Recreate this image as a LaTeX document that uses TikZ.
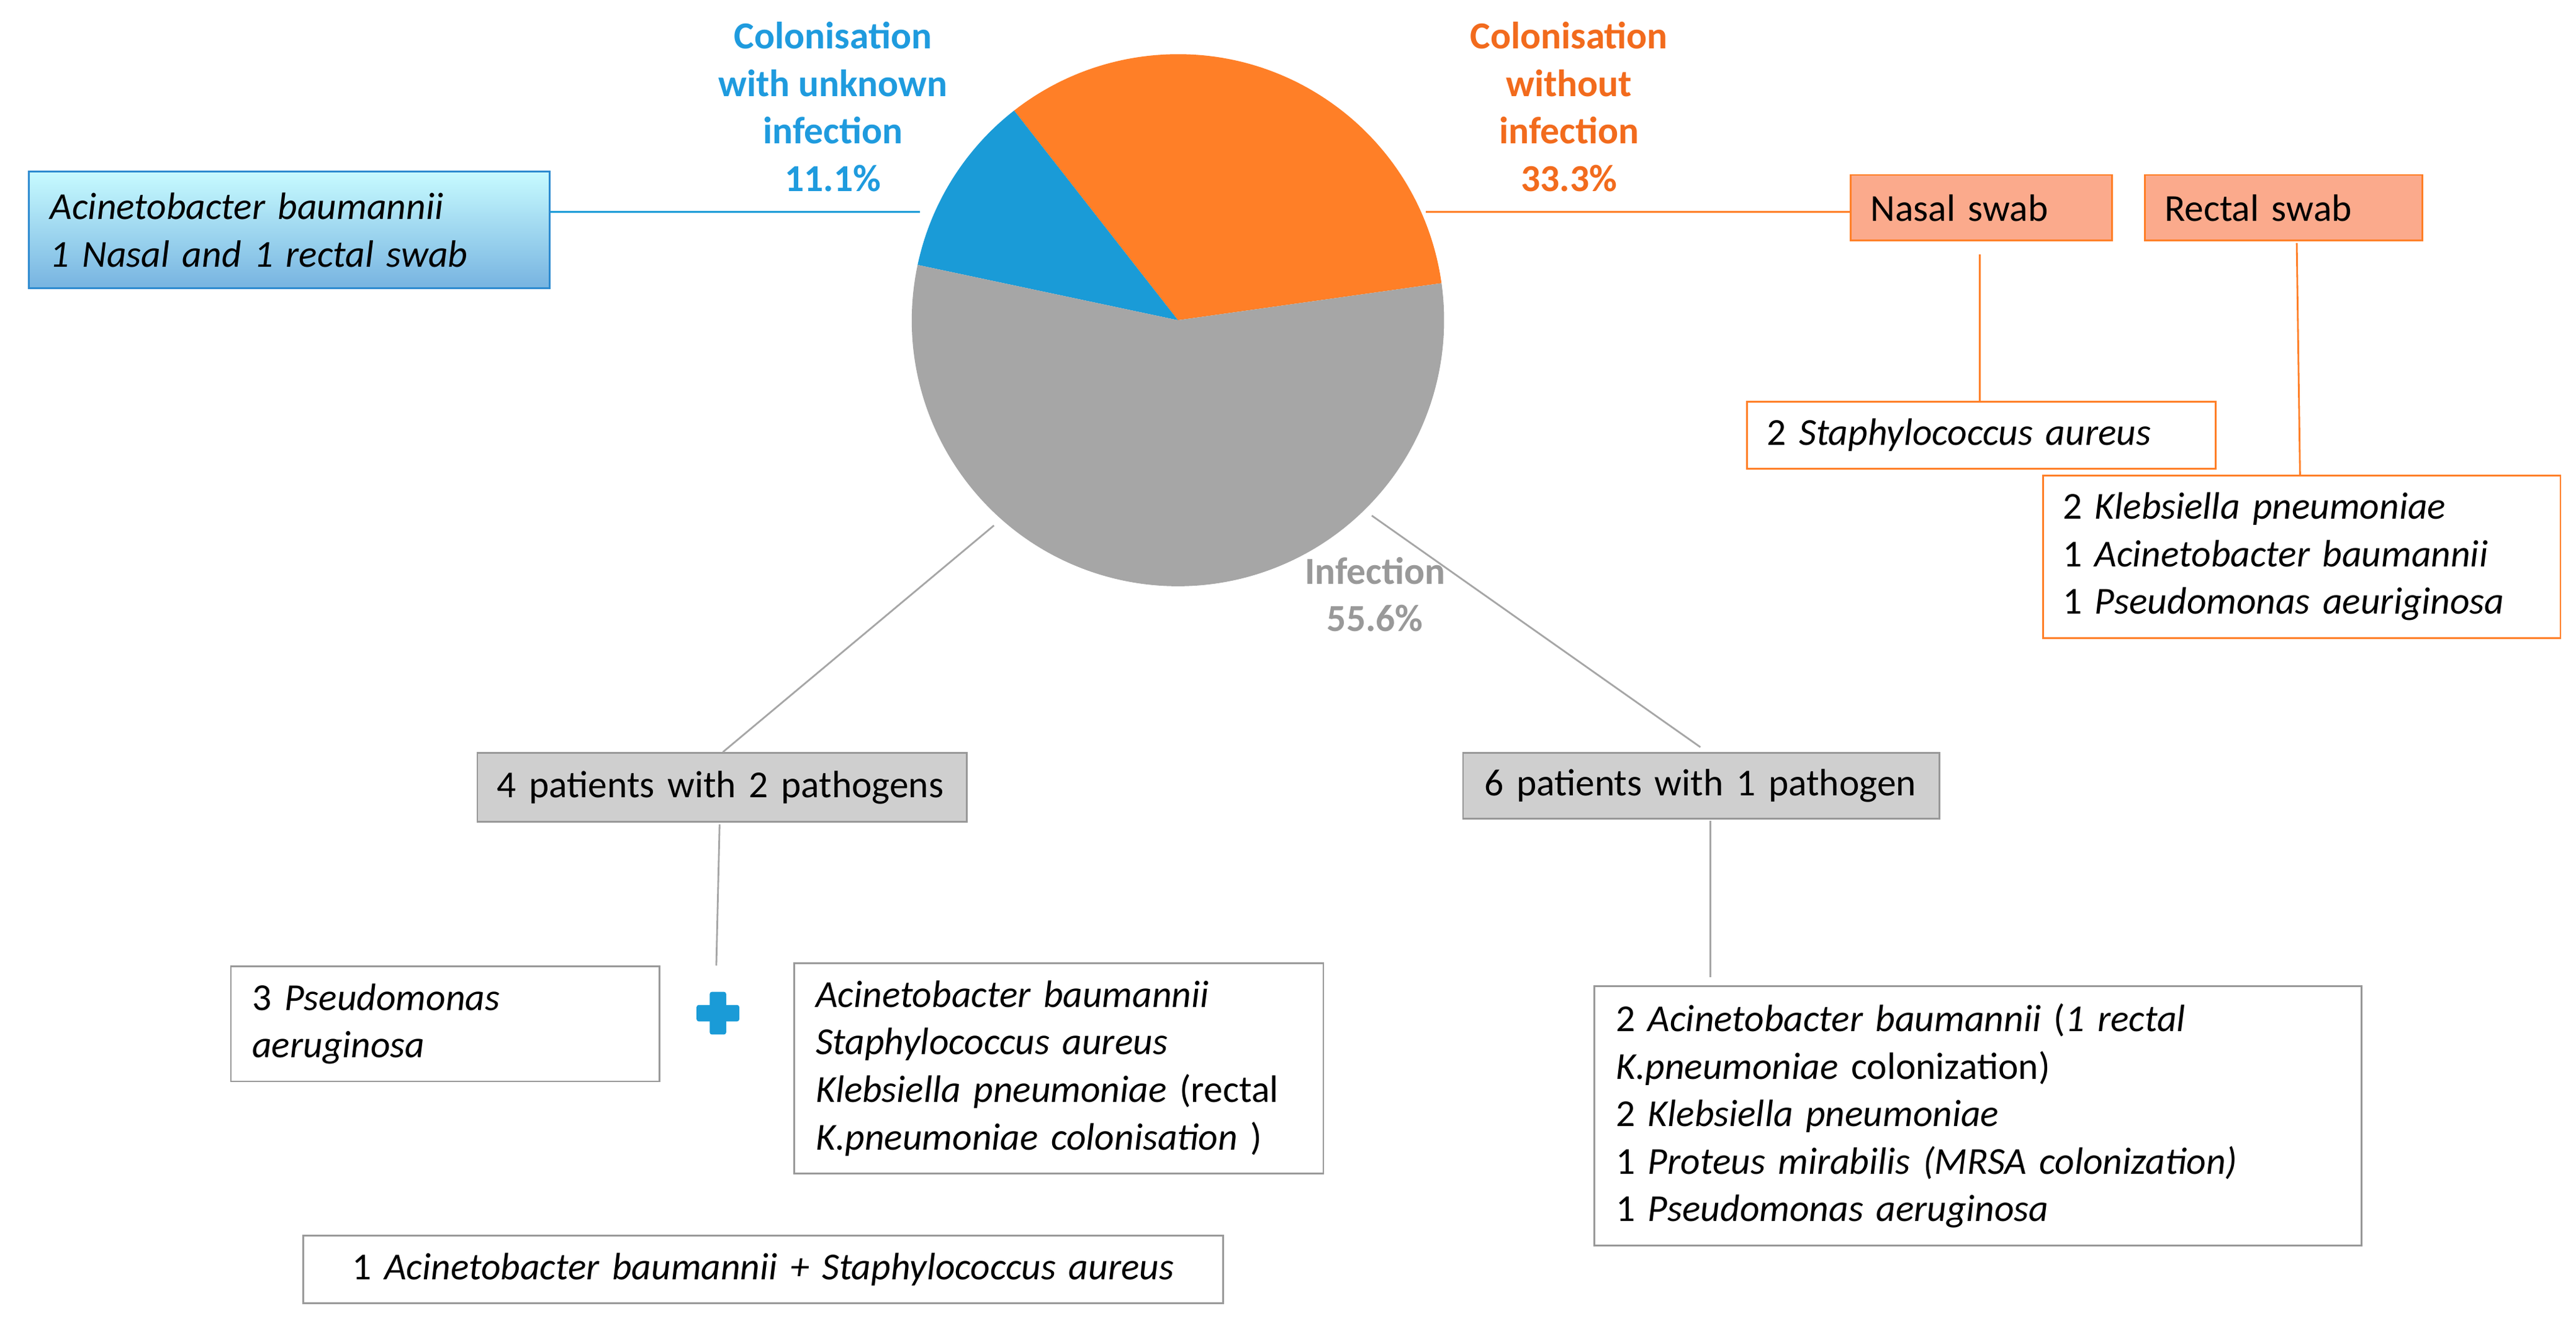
\documentclass[tikz,border=0pt]{standalone}
\usepackage{fontspec}
\setmainfont{Carlito}
\definecolor{pblue}{HTML}{1A9BD7}
\definecolor{porange}{HTML}{FF7F27}
\definecolor{pgray}{HTML}{A6A6A6}
\definecolor{tblue}{HTML}{1F9BDE}
\definecolor{torange}{HTML}{F26B1D}
\definecolor{tgray}{HTML}{999999}
\definecolor{salmon}{HTML}{FBAA8C}
\definecolor{bborder}{HTML}{2E8BD0}
\definecolor{gfill}{HTML}{CFCFCF}
\begin{document}
\begin{tikzpicture}[x=0.026467cm,y=-0.026467cm,
  every node/.style={font=\fontsize{17.5}{21.8}\selectfont},
  box/.style={draw=gray!80, line width=0.8pt, anchor=north west, align=left, inner xsep=0pt, inner ysep=0pt},
  obox/.style={box, draw=porange},
  lbl/.style={font=\fontsize{17.5}{21.8}\selectfont\bfseries, align=center}]
\useasboundingbox (0,0) rectangle (1568,806);
% pie (y axis points down, so angles are negated)
\coordinate (c) at (717,195);
\fill[porange] (c) -- ++(-8:162) arc[start angle=-8,end angle=-128,radius=162] -- cycle;
\fill[pblue] (c) -- ++(-128:162) arc[start angle=-128,end angle=-168,radius=162] -- cycle;
\fill[pgray] (c) -- ++(-168:162) arc[start angle=-168,end angle=-368,radius=162] -- cycle;
\coordinate (pb) at (560,129);
\coordinate (po) at (868,129);
\coordinate (pg1) at (605,320);
\coordinate (pg2) at (835,314);
% labels
\node[lbl,text=tblue] (lb) at (507,65) {Colonisation\\with unknown\\infection\\11.1\%};
\node[lbl,text=torange] (lo) at (955,65) {Colonisation\\without\\infection\\33.3\%};
\node[lbl,text=tgray] (lg) at (837,362) {Infection\\55.6\%};
% blue box
\node[box, draw=bborder, top color=blue!8!cyan!22!white, bottom color=bborder!65, minimum width={317*0.026467cm}, minimum height={71*0.026467cm}, text width={291*0.026467cm}, inner xsep={13*0.026467cm}] (ab) at (17,104) {\itshape Acinetobacter baumannii\\ \itshape 1 Nasal and 1 rectal swab};
\draw[pblue, line width=0.8pt] (ab.east |- pb) -- (pb);
% orange side
\node[obox, fill=salmon, minimum width={159*0.026467cm}, minimum height={40*0.026467cm}, text width={135*0.026467cm}, inner xsep={12*0.026467cm}] (ns) at (1126,106) {Nasal swab};
\node[obox, fill=salmon, minimum width={169*0.026467cm}, minimum height={40*0.026467cm}, text width={145*0.026467cm}, inner xsep={12*0.026467cm}] (rs) at (1305,106) {Rectal swab};
\draw[porange, line width=0.8pt] (po) -- (ns.west |- po);
\node[obox, minimum width={285*0.026467cm}, minimum height={41*0.026467cm}, text width={261*0.026467cm}, inner xsep={12*0.026467cm}] (sa) at (1063,244) {2 \textit{Staphylococcus aureus}};
\node[obox, minimum width={315*0.026467cm}, minimum height={99*0.026467cm}, text width={291*0.026467cm}, inner xsep={12*0.026467cm}] (kp) at (1243,289) {2 \textit{Klebsiella pneumoniae}\\1 \textit{Acinetobacter baumannii}\\1 \textit{Pseudomonas aeuriginosa}};
\coordinate (nsb) at (1205,155);
\coordinate (rsb) at (1398,148);
\draw[porange, line width=0.8pt] (nsb) -- (sa.north -| nsb);
\draw[porange, line width=0.8pt] (rsb) -- (1400,289);
% gray boxes
\node[box, fill=gfill, minimum width={298*0.026467cm}, minimum height={42*0.026467cm}, text width={274*0.026467cm}, inner xsep={12*0.026467cm}] (p2) at (290,458) {4 patients with 2 pathogens};
\node[box, fill=gfill, minimum width={290*0.026467cm}, minimum height={40*0.026467cm}, text width={264*0.026467cm}, inner xsep={13*0.026467cm}] (p1) at (890,458) {6 patients with 1 pathogen};
\draw[pgray, line width=0.8pt] (pg1) -- (440,458);
\draw[pgray, line width=0.8pt] (pg2) -- (1035,455);
\coordinate (p2b) at (438,502);
\draw[pgray, line width=0.8pt] (p2b) -- (436,588);
\fill[pblue, rounded corners=1pt] (424,612) rectangle (450,622);
\fill[pblue, rounded corners=1pt] (432,604) rectangle (442,630);
\node[box, minimum width={261*0.026467cm}, minimum height={70*0.026467cm}, text width={235*0.026467cm}, inner xsep={13*0.026467cm}] (ps) at (140,588) {3 \textit{Pseudomonas}\\\textit{aeruginosa}};
\node[box, minimum width={322*0.026467cm}, minimum height={128*0.026467cm}, text width={296*0.026467cm}, inner xsep={13*0.026467cm}] (ak) at (483,586) {\textit{Acinetobacter baumannii}\\\textit{Staphylococcus aureus}\\\textit{Klebsiella pneumoniae} (rectal\\\textit{K.pneumoniae colonisation} )};
\node[box, minimum width={560*0.026467cm}, minimum height={41*0.026467cm}, text width={534*0.026467cm}, inner xsep={13*0.026467cm}, align=center] (as) at (184,752) {1 \textit{Acinetobacter baumannii + Staphylococcus aureus}};
\node[box, minimum width={467*0.026467cm}, minimum height={158*0.026467cm}, text width={441*0.026467cm}, inner xsep={13*0.026467cm}] (one) at (970,600) {2 \textit{Acinetobacter baumannii} (\textit{1 rectal}\\\textit{K.pneumoniae} colonization)\\2 \textit{Klebsiella pneumoniae}\\1 \textit{Proteus mirabilis (MRSA colonization)}\\1 \textit{Pseudomonas aeruginosa}};
\coordinate (p1b) at (1041,500);
\draw[pgray, line width=0.8pt] (p1b) -- (1041,595);
\end{tikzpicture}
\end{document}
